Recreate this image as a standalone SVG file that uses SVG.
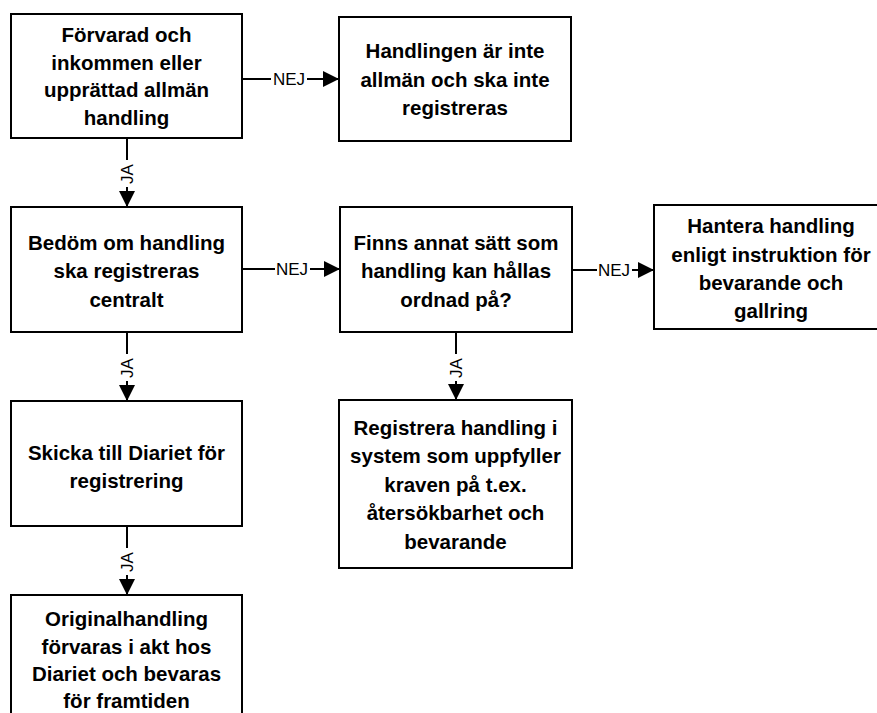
<svg xmlns="http://www.w3.org/2000/svg" width="877" height="713" viewBox="0 0 877 713">
<style>
.box{fill:#fff;stroke:#000;stroke-width:2}
.t{font-family:"Liberation Sans",Arial,sans-serif;font-weight:bold;font-size:20.5px;text-anchor:middle;fill:#000}
.ln{stroke:#000;stroke-width:2;fill:none}
.lbl{font-family:"Liberation Sans",Arial,sans-serif;font-size:17px;text-anchor:middle;fill:#000}
.bg{fill:#fff}
</style>
<defs>
<marker id="ah" markerWidth="16" markerHeight="16" refX="16" refY="8" orient="auto" markerUnits="userSpaceOnUse" viewBox="0 0 16 16">
<path d="M0,0 L16,8 L0,16 Z" fill="#000"/>
</marker>
</defs>
<g id="connectors">
<line class="ln" x1="242" y1="79" x2="339" y2="79" marker-end="url(#ah)"/>
<rect class="bg" x="271" y="69" width="36" height="20"/>
<text class="lbl" x="289" y="85">NEJ</text>
<line class="ln" x1="242" y1="269" x2="340" y2="269" marker-end="url(#ah)"/>
<rect class="bg" x="275" y="259" width="35" height="20"/>
<text class="lbl" x="292" y="275">NEJ</text>
<line class="ln" x1="572" y1="270" x2="654" y2="270" marker-end="url(#ah)"/>
<rect class="bg" x="597" y="260" width="35" height="20"/>
<text class="lbl" x="614" y="276">NEJ</text>
<line class="ln" x1="127" y1="138" x2="127" y2="207" marker-end="url(#ah)"/>
<rect class="bg" x="119" y="160" width="16" height="27"/>
<text class="lbl" transform="translate(133,174) rotate(-90)">JA</text>
<line class="ln" x1="127" y1="332" x2="127" y2="401" marker-end="url(#ah)"/>
<rect class="bg" x="119" y="354" width="16" height="27"/>
<text class="lbl" transform="translate(133,368) rotate(-90)">JA</text>
<line class="ln" x1="456" y1="332" x2="456" y2="400" marker-end="url(#ah)"/>
<rect class="bg" x="448" y="354" width="16" height="27"/>
<text class="lbl" transform="translate(462,368) rotate(-90)">JA</text>
<line class="ln" x1="127" y1="526" x2="127" y2="595" marker-end="url(#ah)"/>
<rect class="bg" x="119" y="548" width="16" height="27"/>
<text class="lbl" transform="translate(133,562) rotate(-90)">JA</text>
</g>
<g id="n1">
<rect class="box" x="11" y="14" width="231" height="124"/>
<text class="t" x="126.5" y="42">Förvarad och</text>
<text class="t" x="126.5" y="70">inkommen eller</text>
<text class="t" x="126.5" y="97">upprättad allmän</text>
<text class="t" x="126.5" y="125">handling</text>
</g>
<g id="n2">
<rect class="box" x="339" y="17" width="232" height="124"/>
<text class="t" x="455" y="58">Handlingen är inte</text>
<text class="t" x="455" y="87">allmän och ska inte</text>
<text class="t" x="455" y="115">registreras</text>
</g>
<g id="n3">
<rect class="box" x="11" y="207" width="231" height="125"/>
<text class="t" x="126.5" y="250">Bedöm om handling</text>
<text class="t" x="126.5" y="278">ska registreras</text>
<text class="t" x="126.5" y="307">centralt</text>
</g>
<g id="n4">
<rect class="box" x="340" y="207" width="232" height="125"/>
<text class="t" x="456" y="250">Finns annat sätt som</text>
<text class="t" x="456" y="278">handling kan hållas</text>
<text class="t" x="456" y="307">ordnad på?</text>
</g>
<g id="n5">
<rect class="box" x="654" y="205" width="234" height="124"/>
<text class="t" x="771" y="233">Hantera handling</text>
<text class="t" x="771" y="262">enligt instruktion för</text>
<text class="t" x="771" y="290">bevarande och</text>
<text class="t" x="771" y="318">gallring</text>
</g>
<g id="n6">
<rect class="box" x="339" y="400" width="233" height="168"/>
<text class="t" x="455.5" y="435">Registrera handling i</text>
<text class="t" x="455.5" y="463">system som uppfyller</text>
<text class="t" x="455.5" y="492">kraven på t.ex.</text>
<text class="t" x="455.5" y="520">återsökbarhet och</text>
<text class="t" x="455.5" y="549">bevarande</text>
</g>
<g id="n7">
<rect class="box" x="11" y="401" width="231" height="125"/>
<text class="t" x="126.5" y="460">Skicka till Diariet för</text>
<text class="t" x="126.5" y="488">registrering</text>
</g>
<g id="n8">
<rect class="box" x="11" y="595" width="231" height="130"/>
<text class="t" x="126.5" y="626">Originalhandling</text>
<text class="t" x="126.5" y="654">förvaras i akt hos</text>
<text class="t" x="126.5" y="681">Diariet och bevaras</text>
<text class="t" x="126.5" y="708">för framtiden</text>
</g>
</svg>
